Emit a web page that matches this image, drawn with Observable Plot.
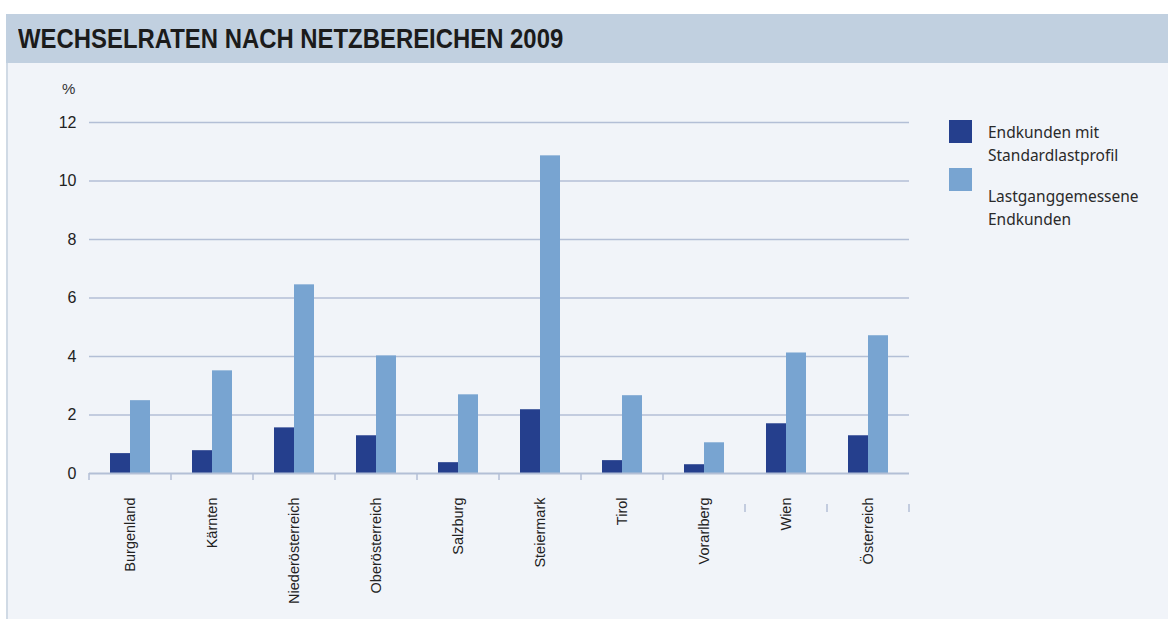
<!DOCTYPE html>
<html>
<head>
<meta charset="utf-8">
<script src="https://cdn.jsdelivr.net/npm/d3@7"></script>
<script src="https://cdn.jsdelivr.net/npm/@observablehq/plot@0.6"></script>
<style>
  html, body { margin: 0; padding: 0; background: #ffffff; }
  body { width: 1168px; height: 619px; position: relative; overflow: hidden; font-family: "Noto Sans", "Liberation Sans", sans-serif; }
  #titlebar { position: absolute; left: 6px; top: 14px; width: 1162px; height: 49px; background: #c1d0e0; }
  #titlebar h1 { margin: 0; position: absolute; left: 12px; top: 10px; font-family: "Liberation Sans", Arial, sans-serif; font-weight: bold; font-size: 27px; line-height: 30px; color: #1b1b1b; transform: scaleX(0.885); transform-origin: 0 0; white-space: nowrap; }
  #panel { position: absolute; left: 6px; top: 63px; width: 1162px; height: 556px; background: #f1f4f9; border-left: 2px solid #d0dae5; box-sizing: border-box; }
  #chart { position: absolute; left: -2px; top: 0; }
  #unit { position: absolute; left: 54px; top: 17px; font-size: 15px; color: #333; font-family: "Liberation Sans", sans-serif; }
  .legend { position: absolute; font-size: 15.5px; line-height: 23px; color: #2a2a2a; }
  .sw { position: absolute; width: 23px; height: 23px; }
</style>
</head>
<body>
<div id="titlebar"><h1>WECHSELRATEN NACH NETZBEREICHEN 2009</h1></div>
<div id="panel">
  <div id="chart"></div>
  <div id="unit">%</div>
  <div id="legend"></div>
</div>
<script>
const regions = ["Burgenland", "Kärnten", "Niederösterreich", "Oberösterreich", "Salzburg", "Steiermark", "Tirol", "Vorarlberg", "Wien", "Österreich"];
const seriesNames = ["Endkunden mit Standardlastprofil", "Lastganggemessene Endkunden"];
const standardlast = [0.68, 0.78, 1.56, 1.29, 0.37, 2.18, 0.44, 0.30, 1.70, 1.29];
const lastgang = [2.49, 3.51, 6.45, 4.02, 2.69, 10.86, 2.66, 1.05, 4.12, 4.71];
const yTicks = [0, 2, 4, 6, 8, 10, 12];
const colors = ["#253f8d", "#78a4d1"];

const data = [];
regions.forEach((r, i) => {
  data.push({region: r, series: seriesNames[0], value: standardlast[i]});
  data.push({region: r, series: seriesNames[1], value: lastgang[i]});
});

const gridColor = "#b3bfd6";

const chart = Plot.plot({
  width: 1162,
  height: 556,
  marginLeft: 81,
  marginRight: 258,
  marginTop: 59,
  marginBottom: 146,
  style: {background: "transparent", fontFamily: "'Liberation Sans', Arial, sans-serif", color: "#222"},
  fx: {domain: regions, padding: 0, label: null},
  x: {domain: seriesNames, paddingInner: 0, paddingOuter: 1, axis: null},
  y: {domain: [0, 12], ticks: yTicks, label: null},
  color: {domain: seriesNames, range: colors},
  marks: [
    Plot.gridY(yTicks.filter(d => d > 0), {stroke: gridColor, strokeOpacity: 1, strokeWidth: 1.5}),
    Plot.axisY(yTicks, {tickSize: 0, tickPadding: 13, fontSize: 16, label: null}),
    Plot.axisFx({anchor: "bottom", tickRotate: -90, tickSize: 0, tickPadding: 24, fontSize: 14.5, label: null}),
    Plot.barY(data, {fx: "region", x: "series", y: "value", fill: "series"}),
    Plot.ruleY([0], {stroke: gridColor, strokeWidth: 2})
  ]
});
document.getElementById("chart").appendChild(chart);

// boundary ticks of the category axis, positioned with Plot's own fx and y scales
const fx = chart.scale("fx");
const ys = chart.scale("y");
const bw = fx.bandwidth;
const y0 = ys.apply(0);
const edges = regions.map(r => fx.apply(r)).concat([fx.apply(regions[regions.length - 1]) + bw]);
const svg = d3.select(chart);
const g = svg.append("g").attr("stroke", gridColor).attr("stroke-width", 1.5);
edges.forEach((x, i) => {
  const low = i >= 8;
  g.append("line")
    .attr("x1", x).attr("x2", x)
    .attr("y1", low ? y0 + 31 : y0)
    .attr("y2", low ? y0 + 39 : y0 + 7);
});

// legend
const legend = document.getElementById("legend");
const legendItems = [
  {color: colors[0], lines: ["Endkunden mit", "Standardlastprofil"], top: 57, textTop: 58},
  {color: colors[1], lines: ["Lastganggemessene", "Endkunden"], top: 105, textTop: 122}
];
legendItems.forEach(it => {
  const sw = document.createElement("div");
  sw.className = "sw";
  sw.style.left = (949 - 8) + "px";
  sw.style.top = it.top + "px";
  sw.style.background = it.color;
  legend.appendChild(sw);
  const t = document.createElement("div");
  t.className = "legend";
  t.style.left = (988 - 8) + "px";
  t.style.top = it.textTop + "px";
  t.innerHTML = it.lines.join("<br>");
  legend.appendChild(t);
});
</script>
</body>
</html>
